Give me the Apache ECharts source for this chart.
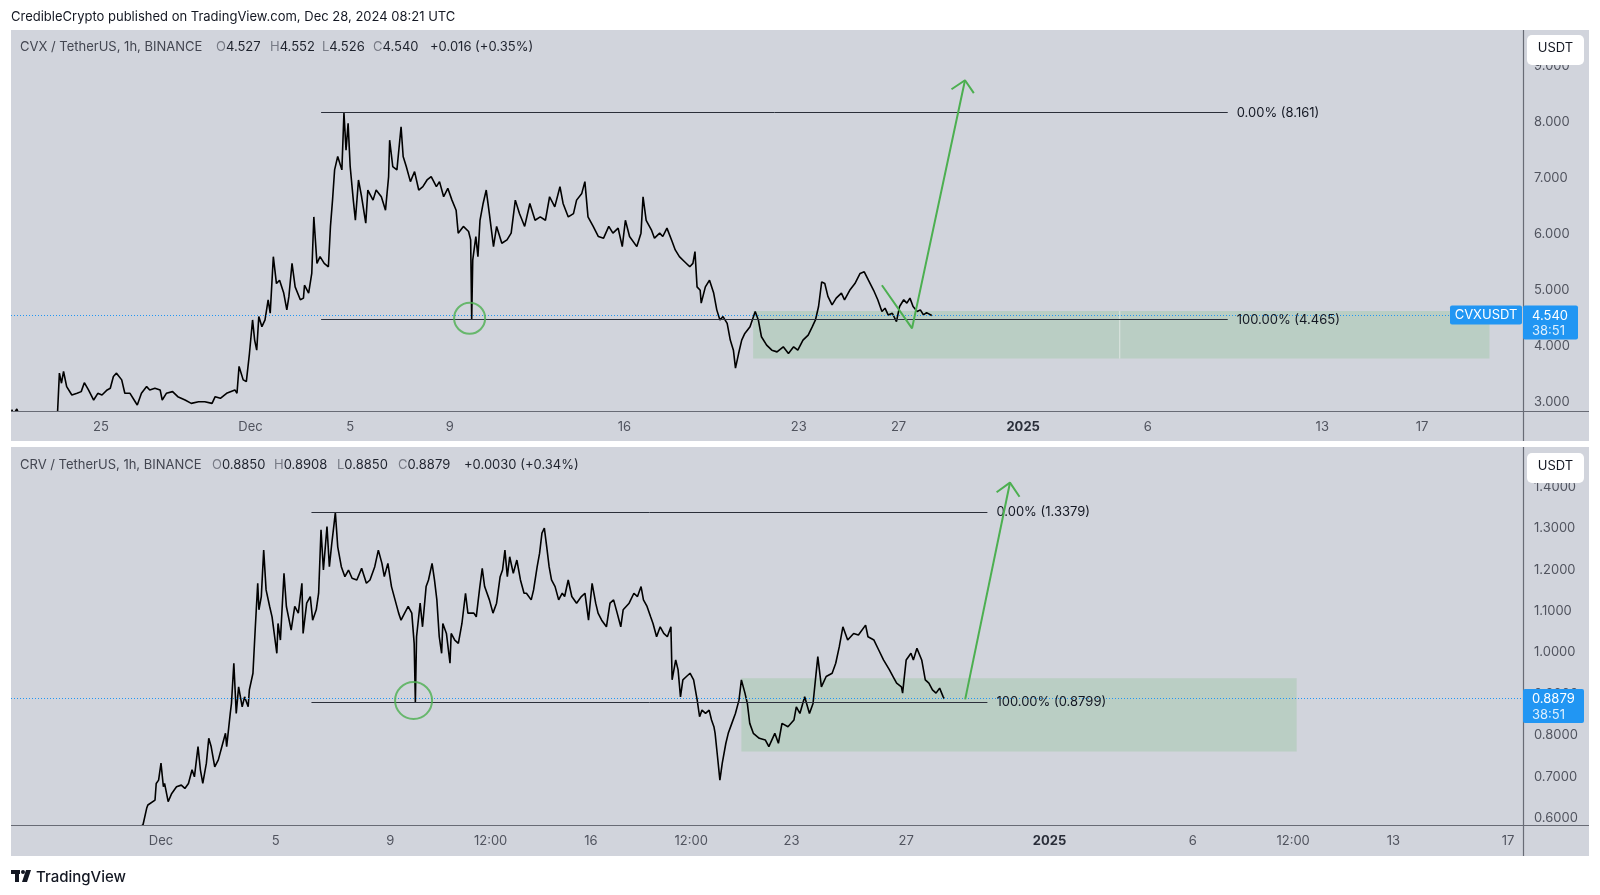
<!DOCTYPE html>
<html><head><meta charset="utf-8">
<script src="https://cdn.jsdelivr.net/npm/echarts@6/dist/echarts.min.js"></script>
<style>html,body{margin:0;padding:0;background:#fff}#c{width:1600px;height:895px}</style>
</head><body><div id="c"></div>
<script>
const FONT = 'Inter, "Noto Sans", Roboto, sans-serif';

// time = hours since 2024-11-22 00:00 UTC (hourly candles, closes)
const cvxHours = [-14,-12,-9,-7,-4,30,32,34,36,39,44,49,53,56,60,65,69,73,78,81,84,87,92,95,100,105,107,111,116,119,124,129,131,135,141,146,153,159,166,172,179,182,187,193,201,203,205,209,212,215,218,220,222,224,227,230,233,235,238,241,244,248,251,253,256,259,264,267,268,272,275,277,280,283,287,291,293,295,297,300,304,306,308,310,312,315,317,320,323,327,329,334,337,342,346,349,350,353,357,361,363,366,370,374,378,382,386,390,395,398,402,406,410,414,416,421,426,428,429,430,433,435,437,440,443,446,450,453,458,463,467,471,475,480,485,490,495,500,504,509,514,517,522,527,530,535,538,541,546,551,556,561,565,570,574,577,581,588,592,594,597,602,605,610,613,617,622,625,629,634,639,642,644,646,649,650,654,658,662,665,668,671,675,678,681,683,686,689,692,697,702,705,708,713,718,723,729,734,739,743,748,753,757,760,763,766,769,772,776,780,785,788,793,798,803,807,811,816,820,824,827,830,834,838,841,845,848,851,854,858,861,864,867,872];
const cvxPrices = [2.86,2.78,2.87,2.78,2.70,2.72,3.51,3.33,3.54,3.27,3.12,3.15,3.18,3.34,3.21,3.03,3.15,3.12,3.21,3.24,3.45,3.51,3.39,3.15,3.15,3.00,2.94,3.15,3.27,3.21,3.24,3.21,3.03,3.15,3.18,3.09,3.03,2.97,3.00,3.00,2.97,3.09,3.06,3.15,3.21,3.15,3.63,3.39,3.36,3.86,4.46,4.10,3.92,4.52,4.34,4.46,4.82,4.58,5.59,5.11,5.17,4.94,4.64,4.88,5.47,5.05,4.82,4.85,5.08,4.94,5.29,6.30,5.47,5.59,5.47,5.41,6.13,6.60,7.14,7.38,7.14,8.161,7.49,7.97,7.20,6.60,6.24,6.96,6.66,6.19,6.78,6.60,6.78,6.66,6.42,7.02,7.67,7.20,7.14,7.91,7.38,7.20,6.93,7.11,6.78,6.84,6.96,7.02,6.84,6.93,6.66,6.81,6.60,6.42,6.01,6.13,6.04,5.89,4.465,5.53,5.95,5.59,6.24,6.54,6.78,6.36,5.77,6.13,5.83,5.89,6.01,6.60,6.36,6.13,6.54,6.24,6.30,6.24,6.66,6.48,6.84,6.54,6.30,6.36,6.60,6.72,6.93,6.30,6.13,5.95,5.92,6.13,6.01,6.10,5.77,6.24,5.95,5.77,6.01,6.66,6.24,6.07,5.92,6.01,5.95,6.10,5.86,5.71,5.59,5.50,5.41,5.47,5.68,5.05,4.99,4.76,5.05,5.17,4.94,4.64,4.46,4.52,4.40,4.10,3.92,3.60,3.86,4.10,4.22,4.34,4.61,4.46,4.16,4.01,3.92,3.89,3.98,3.86,3.98,3.92,4.10,4.19,4.34,4.46,4.70,5.14,5.11,4.88,4.73,4.85,4.94,4.82,4.99,5.11,5.29,5.32,5.17,4.99,4.82,4.61,4.67,4.55,4.58,4.43,4.70,4.82,4.76,4.85,4.70,4.61,4.64,4.55,4.59,4.54];

const crvHours = [195,201,204,205,211,212,214,216,218,219,222,225,229,233,236,239,242,244,247,249,251,254,256,258,261,264,267,270,271,274,275,277,279,281,284,286,289,290,293,295,297,298,300,302,304,307,309,313,314,316,319,321,325,328,331,334,335,338,341,343,346,348,350,352,355,357,359,361,362,364,367,370,373,376,380,384,388,391,395,398,401,403,406,409,412,415,417,420,423,426,428,429,430,433,435,438,440,443,445,447,449,451,452,455,458,459,462,465,468,471,473,478,480,483,485,487,491,494,497,500,502,504,506,508,511,514,517,520,522,526,528,531,533,535,537,539,541,543,546,549,552,554,557,560,564,568,571,574,577,580,582,585,589,592,595,598,601,603,608,612,615,618,620,623,626,628,631,634,637,640,643,644,647,649,651,653,656,659,662,665,667,669,672,675,677,679,680,682,684,686,689,691,694,697,700,702,705,707,709,712,717,722,725,730,733,736,741,746,748,751,755,759,762,764,766,769,773,778,781,784,787,791,796,800,806,808,813,817,821,826,829,832,836,837,840,844,846,849,853,856,859,862,865,868,871,872];
const crvPrices = [0.57,0.585,0.624,0.632,0.644,0.684,0.692,0.733,0.676,0.684,0.640,0.660,0.676,0.680,0.672,0.684,0.717,0.700,0.773,0.717,0.684,0.733,0.793,0.773,0.724,0.741,0.773,0.805,0.773,0.853,0.877,0.974,0.853,0.917,0.869,0.893,0.869,0.910,0.950,1.062,1.167,1.103,1.135,1.247,1.151,1.111,1.086,0.998,1.070,1.030,1.191,1.111,1.054,1.111,1.095,1.167,1.046,1.119,1.135,1.078,1.103,1.143,1.296,1.199,1.304,1.207,1.263,1.312,1.3379,1.255,1.207,1.183,1.199,1.179,1.175,1.203,1.167,1.175,1.207,1.247,1.215,1.183,1.215,1.159,1.127,1.095,1.078,1.095,1.111,1.095,1.022,0.8799,1.038,1.119,1.062,1.159,1.175,1.215,1.175,1.127,1.038,0.998,1.070,1.046,0.974,1.046,1.030,1.022,1.070,1.143,1.095,1.095,1.086,1.159,1.203,1.159,1.127,1.095,1.119,1.183,1.199,1.247,1.183,1.231,1.191,1.223,1.175,1.143,1.143,1.127,1.151,1.207,1.239,1.288,1.300,1.255,1.207,1.175,1.159,1.127,1.143,1.135,1.175,1.135,1.119,1.135,1.143,1.078,1.167,1.119,1.095,1.078,1.062,1.119,1.127,1.095,1.062,1.103,1.119,1.143,1.135,1.159,1.127,1.111,1.086,1.070,1.038,1.062,1.046,1.038,1.062,0.934,0.982,0.958,0.893,0.934,0.942,0.950,0.934,0.885,0.845,0.861,0.853,0.861,0.837,0.821,0.805,0.749,0.692,0.733,0.781,0.805,0.829,0.853,0.885,0.934,0.902,0.877,0.829,0.805,0.793,0.789,0.773,0.805,0.781,0.829,0.821,0.837,0.869,0.853,0.893,0.853,0.877,0.934,0.990,0.917,0.942,0.950,0.974,1.014,1.062,1.030,1.046,1.042,1.066,1.038,1.030,1.006,0.982,0.958,0.942,0.926,0.917,0.902,0.982,0.998,0.982,1.010,0.982,0.934,0.926,0.910,0.902,0.914,0.893,0.8879];

const topTickHours = [72,216,312,408,576,744,840,960,1080,1248,1344];
const topTickLabels = ['25','Dec','5','9','16','23','27','2025','6','13','17'];
const botTickHours = [216,312,408,492,576,660,744,840,960,1080,1164,1248,1344];
const botTickLabels = ['Dec','5','9','12:00','16','12:00','23','27','2025','6','12:00','13','17'];
const cvxPriceTicks = [3,4,5,6,7,8,9];
const crvPriceTicks = [0.6,0.7,0.8,0.9,1.0,1.1,1.2,1.3,1.4];

// annotations (hours, price)
const cvxFibSpan = [284, 1157];
const cvxFibLevels = [8.161, 4.465];
const cvxFibTexts = ['0.00% (8.161)', '100.00% (4.465)'];
const cvxZoneX = [700, 1053, 1409];
const cvxZoneY = [4.62, 3.77];
const cvxCircle = [427, 4.49];
const cvxPath = [[824, 5.08], [853, 4.31], [904, 8.74]];
const cvxHead = [[891, 8.58], [904, 8.74], [912.5, 8.51]];
const cvxLast = 4.540;

const crvFibSpan = [342, 908];
const crvFibLevels = [1.3379, 0.8799];
const crvFibTexts = ['0.00% (1.3379)', '100.00% (0.8799)'];
const crvZoneX = [702, 1167];
const crvZoneY = [0.938, 0.761];
const crvCircle = [427.5, 0.884];
const crvPath = [[889.4, 0.887], [926.9, 1.4097]];
const crvHead = [[915.7, 1.3866], [926.9, 1.4097], [934.9, 1.3759]];
const crvLast = 0.8879;

const GREEN = '#4caf50';
const BLUE = '#2196f3';
const LABEL = '#50535e';

const chart = echarts.init(document.getElementById('c'), null, {renderer: 'canvas'});

function xAxisCfg(grid, min, max, hours, labels) {
  return {
    type: 'value', gridIndex: grid, min: min, max: max,
    axisLine: {show: false}, axisTick: {show: false}, splitLine: {show: false},
    axisLabel: {
      customValues: hours, margin: 10, color: LABEL, fontSize: 13, fontFamily: FONT,
      formatter: function (v) {
        const i = hours.indexOf(v);
        const t = i >= 0 ? labels[i] : '';
        return t === '2025' ? '{b|2025}' : t;
      },
      rich: {b: {fontWeight: 'bold', color: '#2a2e39', fontSize: 13, fontFamily: FONT}}
    }
  };
}
function yAxisCfg(grid, min, max, ticks, dec) {
  return {
    type: 'value', gridIndex: grid, position: 'right', min: min, max: max,
    axisLine: {show: false}, axisTick: {show: false}, splitLine: {show: false},
    axisLabel: {customValues: ticks, margin: 11, color: LABEL, fontSize: 13, fontFamily: FONT,
      formatter: v => v.toFixed(dec)}
  };
}
function priceSeries(idx, hours, prices, last) {
  return {
    type: 'line', xAxisIndex: idx, yAxisIndex: idx, showSymbol: false, clip: true,
    data: hours.map((h, i) => [h, prices[i]]),
    lineStyle: {color: '#000', width: 1.6}, z: 4, silent: true,
    markLine: {
      silent: true, symbol: ['none', 'none'],
      data: [{yAxis: last}],
      lineStyle: {color: BLUE, type: [1, 2], width: 1}, label: {show: false}
    }
  };
}
function fibSeries(idx, span, levels, texts) {
  return {
    type: 'line', xAxisIndex: idx, yAxisIndex: idx, data: [], silent: true, z: 3,
    markLine: {
      silent: true, symbol: ['none', 'none'],
      lineStyle: {color: '#2a2e39', type: 'solid', width: 1},
      label: {show: true, position: 'end', distance: 9, color: '#131722', fontSize: 13, fontFamily: FONT},
      data: levels.map((lv, i) => [
        {coord: [span[0], lv], label: {formatter: texts[i]}},
        {coord: [span[1], lv]}
      ])
    }
  };
}
function zoneSeries(idx, xs, ys) {
  const areas = [];
  for (let i = 0; i < xs.length - 1; i++) areas.push([{coord: [xs[i], ys[0]]}, {coord: [xs[i + 1], ys[1]]}]);
  return {
    type: 'line', xAxisIndex: idx, yAxisIndex: idx, data: [], silent: true, z: 1,
    markArea: {silent: true, itemStyle: {color: 'rgba(76,175,80,0.17)'}, data: areas}
  };
}
function greenLine(idx, pts) {
  return {type: 'line', xAxisIndex: idx, yAxisIndex: idx, data: pts, showSymbol: false, silent: true,
    lineStyle: {color: GREEN, width: 2}, z: 6};
}
function circleSeries(idx, pt, size) {
  return {type: 'scatter', xAxisIndex: idx, yAxisIndex: idx, data: [pt], symbol: 'circle', symbolSize: size,
    silent: true, itemStyle: {color: 'rgba(0,0,0,0)', borderColor: GREEN, borderWidth: 2}, z: 6};
}

const option = {
  animation: false,
  backgroundColor: '#ffffff',
  grid: [
    {left: 11, top: 30, width: 1512, height: 381},
    {left: 11, top: 447, width: 1512, height: 378}
  ],
  xAxis: [
    xAxisCfg(0, -14.6, 1441.3, topTickHours, topTickLabels),
    xAxisCfg(1, 90.4, 1356.5, botTickHours, botTickLabels)
  ],
  yAxis: [
    yAxisCfg(0, 2.834, 9.638, cvxPriceTicks, 3),
    yAxisCfg(1, 0.5838, 1.4958, crvPriceTicks, 4)
  ],
  series: [
    zoneSeries(0, cvxZoneX, cvxZoneY),
    {type: 'line', xAxisIndex: 0, yAxisIndex: 0, silent: true, showSymbol: false, z: 2,
      data: [[cvxZoneX[1], cvxZoneY[0]], [cvxZoneX[1], cvxZoneY[1]]],
      lineStyle: {color: 'rgba(225,232,228,0.9)', width: 1}},
    fibSeries(0, cvxFibSpan, cvxFibLevels, cvxFibTexts),
    priceSeries(0, cvxHours, cvxPrices, cvxLast),
    circleSeries(0, cvxCircle, 31),
    greenLine(0, cvxPath),
    greenLine(0, cvxHead),
    zoneSeries(1, crvZoneX, crvZoneY),
    fibSeries(1, crvFibSpan, crvFibLevels, crvFibTexts),
    priceSeries(1, crvHours, crvPrices, crvLast),
    circleSeries(1, crvCircle, 37),
    greenLine(1, crvPath),
    greenLine(1, crvHead)
  ]
};
chart.setOption(option);

// ---- decorations (panels, headers, price tags) ----
const g = [];
g.push({type: 'rect', z: -100, shape: {x: 11, y: 30, width: 1578, height: 411}, style: {fill: '#d1d4dc'}});
g.push({type: 'rect', z: -100, shape: {x: 11, y: 447, width: 1578, height: 409}, style: {fill: '#d1d4dc'}});
const sep = '#686b75';
g.push({type: 'line', z: 50, shape: {x1: 11, y1: 411.5, x2: 1589, y2: 411.5}, style: {stroke: sep, lineWidth: 1.2}});
g.push({type: 'line', z: 50, shape: {x1: 1523.5, y1: 30, x2: 1523.5, y2: 441}, style: {stroke: sep, lineWidth: 1.2}});
g.push({type: 'line', z: 50, shape: {x1: 11, y1: 825.5, x2: 1589, y2: 825.5}, style: {stroke: sep, lineWidth: 1.2}});
g.push({type: 'line', z: 50, shape: {x1: 1523.5, y1: 447, x2: 1523.5, y2: 856}, style: {stroke: sep, lineWidth: 1.2}});

function txt(x, y, text, color, size, weight, align) {
  g.push({type: 'text', z: 90, x: x, y: y, style: {text: text, fill: color, fontSize: size || 13,
    fontFamily: FONT, fontWeight: weight || 'normal', textAlign: align || 'left', textVerticalAlign: 'middle'}});
}
txt(11, 17, 'CredibleCrypto published on TradingView.com, Dec 28, 2024 08:21 UTC', '#131722', 13);

const NAME = '#434651', KEY = '#787b86', VAL = '#1e222d';
function header(y, name, parts, xs) {
  txt(20, y, name, NAME, 13);
  parts.forEach((p, i) => {
    if (p[0]) {
      g.push({type: 'text', z: 90, x: xs[i], y: y, style: {
        text: '{k|' + p[0] + '}{v|' + p[1] + '}', fontSize: 13, fontFamily: FONT, textVerticalAlign: 'middle',
        rich: {k: {fill: KEY, fontSize: 13, fontFamily: FONT}, v: {fill: VAL, fontSize: 13, fontFamily: FONT}}}});
    } else {
      txt(xs[i], y, p[1], VAL, 13);
    }
  });
}
header(47, 'CVX / TetherUS, 1h, BINANCE',
  [['O', '4.527'], ['H', '4.552'], ['L', '4.526'], ['C', '4.540'], ['', '+0.016 (+0.35%)']],
  [216, 270, 322, 373, 430]);
header(465, 'CRV / TetherUS, 1h, BINANCE',
  [['O', '0.8850'], ['H', '0.8908'], ['L', '0.8850'], ['C', '0.8879'], ['', '+0.0030 (+0.34%)']],
  [212, 274, 337, 398, 464]);

// USDT buttons
function usdt(y) {
  g.push({type: 'rect', z: 70, shape: {x: 1527, y: y, width: 57, height: 30, r: 5}, style: {fill: '#ffffff'}});
  txt(1555.5, y + 13, 'USDT', '#131722', 13, 'normal', 'center');
}
usdt(35);
usdt(453);

// price tags
function tag(grid, hour, price, text, withName) {
  const p = chart.convertToPixel({gridIndex: grid}, [hour, price]);
  const y = p[1];
  g.push({type: 'rect', z: 70, shape: {x: 1523, y: y - 10, width: grid === 0 ? 55 : 61, height: 34, r: 2}, style: {fill: BLUE}});
  txt(1532, y + 0.5, text, '#ffffff', 13);
  txt(1532, y + 16, '38:51', 'rgba(255,255,255,0.85)', 13);
  if (withName) {
    g.push({type: 'rect', z: 70, shape: {x: 1450, y: y - 10, width: 72, height: 19, r: 2}, style: {fill: BLUE}});
    txt(1486, y, withName, '#ffffff', 13, 'normal', 'center');
  }
}
tag(0, 872, cvxLast, '4.540', 'CVXUSDT');
tag(1, 872, crvLast, '0.8879', null);

// TradingView logo + wordmark
g.push({type: 'rect', z: 60, shape: {x: 11, y: 870, width: 9, height: 4}, style: {fill: '#131722'}});
g.push({type: 'rect', z: 60, shape: {x: 15, y: 870, width: 4, height: 12}, style: {fill: '#131722'}});
g.push({type: 'circle', z: 60, shape: {cx: 23, cy: 872, r: 2}, style: {fill: '#131722'}});
g.push({type: 'polygon', z: 60, shape: {points: [[26, 870], [31, 870], [27, 882], [22, 882]]}, style: {fill: '#131722'}});
txt(36, 877, 'TradingView', '#131722', 15, '500');

chart.setOption({graphic: {elements: g}});
</script>
</body></html>
